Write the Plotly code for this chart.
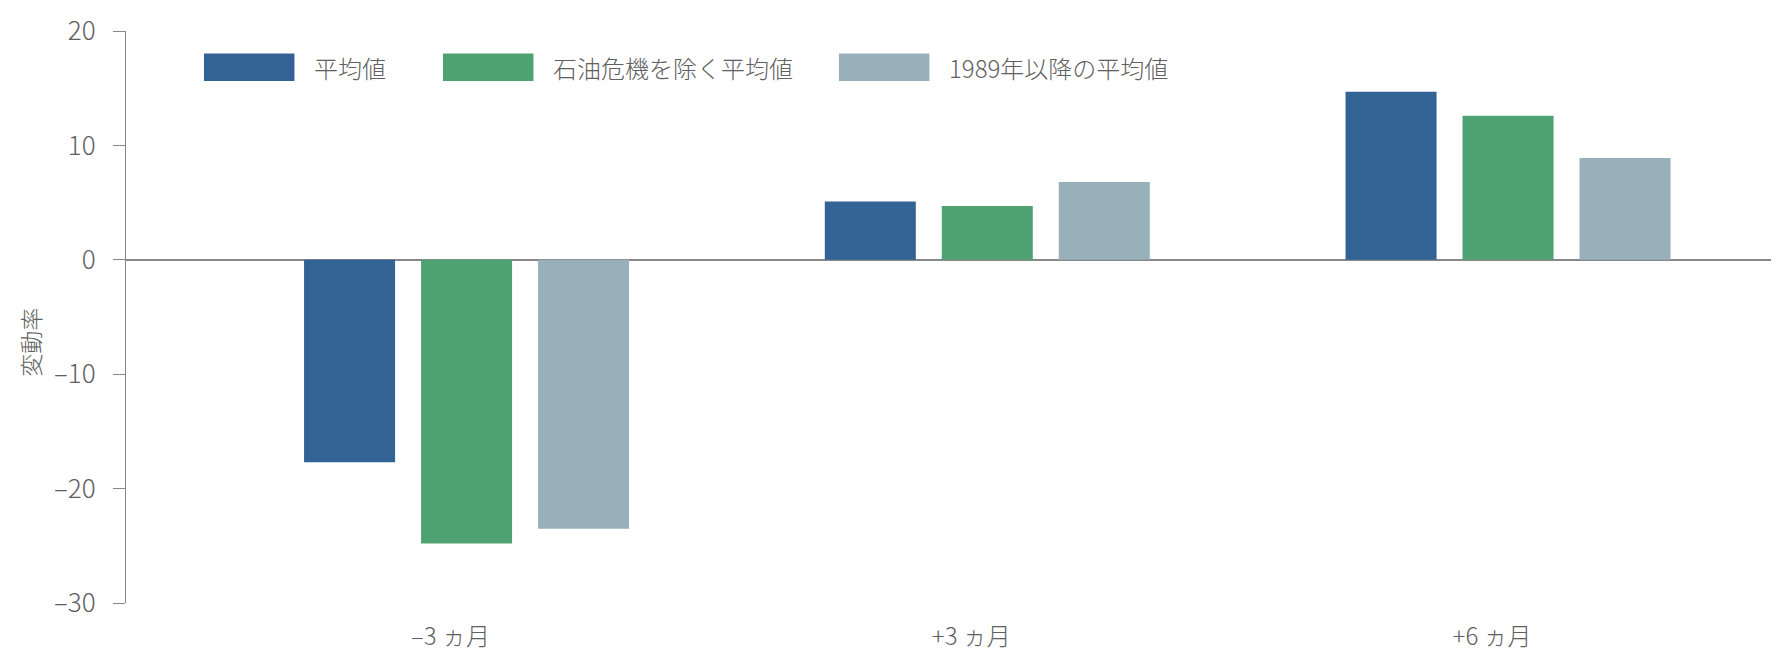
import plotly.graph_objects as go

# data
periods = ["–3 ヵ月", "+3 ヵ月", "+6 ヵ月"]
avg_all = [-17.7, 5.1, 14.7]
avg_ex_oil = [-24.8, 4.7, 12.6]
avg_since_1989 = [-23.5, 6.8, 8.9]

series_names = ["平均値", "石油危機を除く平均値", "1989年以降の平均値"]
series_colors = ["#336294", "#4ea271", "#98b0ba"]

y_ticks = [20, 10, 0, -10, -20, -30]
y_ticklabels = ["20", "10", "0", "–10", "–20", "–30"]

FONT = "Noto Sans CJK JP"
GREY_TXT = "#606060"
GREY_LINE = "#888888"

fig = go.Figure()
for name, vals, col in zip(series_names, [avg_all, avg_ex_oil, avg_since_1989], series_colors):
    fig.add_trace(go.Bar(
        x=periods, y=vals, name=name,
        marker=dict(color=col, line=dict(width=0)),
        showlegend=False
    ))

# legend drawn by hand: plotly's own swatches are too small
legend_x = [0.0474, 0.1927, 0.4334]
sw_w = 0.0550
for lx, name, col in zip(legend_x, series_names, series_colors):
    fig.add_shape(type="rect", xref="paper", yref="paper",
                  x0=lx, x1=lx + sw_w, y0=0.9124, y1=0.9605,
                  fillcolor=col, line=dict(width=0))
    fig.add_annotation(x=lx + sw_w + 0.0105, y=0.936, xref="paper", yref="paper",
                       text=name, showarrow=False, xanchor="left", yanchor="middle",
                       font=dict(family=FONT, size=24, color=GREY_TXT, weight=300))

# y axis title
fig.add_annotation(x=-0.0584, y=0.4564, xref="paper", yref="paper",
                   text="変動率", textangle=-90, showarrow=False,
                   xanchor="center", yanchor="middle",
                   font=dict(family=FONT, size=23, color=GREY_TXT, weight=300))

# page body keeps its 8px default margin, so the figure is sized to fit inside the window
fig.update_layout(
    width=1779, height=651,
    margin=dict(l=118, r=16, t=23, b=56, autoexpand=False),
    paper_bgcolor="white", plot_bgcolor="white",
    barmode="group", bargap=0.326, bargroupgap=0.222,
    font=dict(family=FONT, size=24, color=GREY_TXT, weight=300),
)
fig.update_xaxes(
    type="category", range=[-0.654, 2.505], automargin=False,
    showline=False, showgrid=False, ticks="",
    ticklabelshift=-16, ticklabelstandoff=17,
    tickfont=dict(family=FONT, size=24, color=GREY_TXT, weight=300),
)
fig.update_yaxes(
    range=[-30, 20], tickvals=y_ticks, ticktext=y_ticklabels, automargin=False,
    showgrid=False, showline=True, linecolor=GREY_LINE, linewidth=1.3,
    ticks="outside", ticklen=12, tickcolor=GREY_LINE, tickwidth=1.3,
    ticklabelstandoff=12,
    zeroline=True, zerolinecolor=GREY_LINE, zerolinewidth=1.5,
    tickfont=dict(family=FONT, size=26, color=GREY_TXT, weight=300),
)

fig.write_html("out.html")
